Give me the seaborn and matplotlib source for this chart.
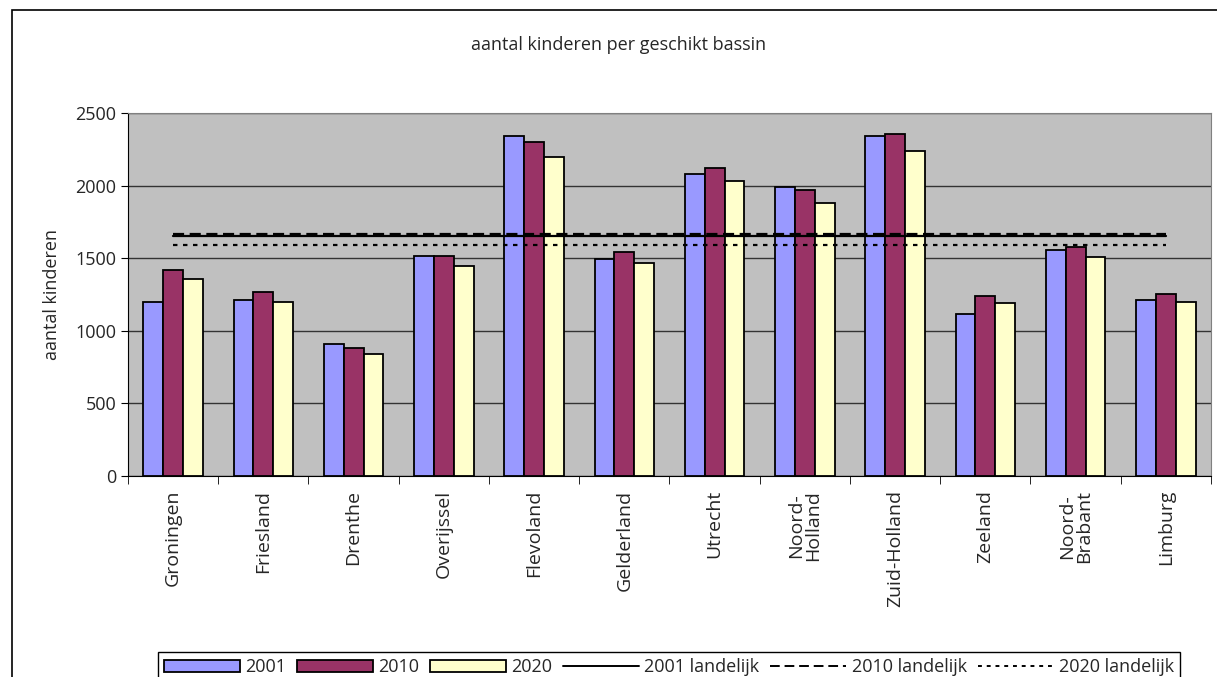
import numpy as np
import pandas as pd
import matplotlib.pyplot as plt
import seaborn as sns
from matplotlib.patches import Patch, Rectangle
from matplotlib.lines import Line2D

provinces = ["Groningen", "Friesland", "Drenthe", "Overijssel", "Flevoland",
             "Gelderland", "Utrecht", "Noord-\nHolland", "Zuid-Holland",
             "Zeeland", "Noord-\nBrabant", "Limburg"]
years = ["2001", "2010", "2020"]
v2001 = [1200, 1212, 907, 1517, 2340, 1494, 2082, 1992, 2340, 1113, 1558, 1212]
v2010 = [1419, 1267, 881, 1517, 2302, 1546, 2121, 1968, 2353, 1242, 1575, 1254]
v2020 = [1355, 1200, 842, 1446, 2197, 1470, 2032, 1880, 2238, 1191, 1510, 1200]
national = {"2001": 1651, "2010": 1667, "2020": 1591}

colors = ["#9999FF", "#993366", "#FFFFCC"]
styles = {"2001": "-", "2010": (0, (5, 2.5)), "2020": (0, (2, 2.5))}

df = pd.DataFrame({"provincie": provinces * 3,
                   "jaar": np.repeat(years, len(provinces)),
                   "kinderen": v2001 + v2010 + v2020})

sns.set_style("white")
plt.rcParams["font.family"] = ["Open Sans", "DejaVu Sans"]

fig = plt.figure(figsize=(12.17, 6.77), dpi=100)
ax = fig.add_axes([128 / 1217, 1 - 476 / 677, (1211 - 128) / 1217, (476 - 113) / 677])
ax.set_facecolor("#C0C0C0")

sns.barplot(data=df, x="provincie", y="kinderen", hue="jaar", palette=colors,
            saturation=1, width=0.66, edgecolor="black", linewidth=1.3, ax=ax,
            legend=False, zorder=3)

pos = np.arange(len(provinces))
for y in years:
    ax.plot(pos, [national[y]] * len(provinces), color="black", lw=1.6,
            linestyle=styles[y], zorder=4)

ax.set_ylim(0, 2500)
ax.set_xlim(-0.5, len(provinces) - 0.5)
ax.set_yticks(range(0, 2501, 500))
ax.yaxis.grid(True, color="#333333", lw=1, zorder=0)
ax.set_axisbelow(True)
ax.set_xticks(pos)
ax.set_xticklabels(provinces, rotation=90, fontsize=14, linespacing=0.9)
ax.set_xticks(np.arange(-0.5, len(provinces)), minor=True)
ax.tick_params(axis="x", which="major", length=0, pad=10)
ax.tick_params(axis="x", which="minor", length=6, direction="out", color="black", bottom=True)
ax.tick_params(axis="y", length=5, direction="out", color="black", left=True, labelsize=13)
ax.set_xlabel("")
ax.set_ylabel("aantal kinderen", fontsize=13, labelpad=10)
for s in ["top", "right"]:
    ax.spines[s].set_color("#808080")
for s in ["left", "bottom"]:
    ax.spines[s].set_color("black")

fig.text(619 / 1217, 1 - 45 / 677, "aantal kinderen per geschikt bassin",
         ha="center", va="center", fontsize=13)

fig.patches.append(Rectangle((12 / 1217, -0.1), 1.2, 1 - 10 / 677 + 0.1,
                             transform=fig.transFigure, fill=False,
                             edgecolor="black", lw=1.2))

handles = [Patch(facecolor=c, edgecolor="black", lw=1.3, label=y) for c, y in zip(colors, years)]
handles += [Line2D([], [], color="black", lw=1.4, linestyle=styles[y], label=y + " landelijk")
            for y in years]
fig.legend(handles=handles, loc="upper center", ncol=6,
           bbox_to_anchor=(669 / 1217, 1 - 643 / 677), frameon=True, fancybox=False,
           edgecolor="black", fontsize=13, handlelength=4.2, handletextpad=0.3,
           columnspacing=0.6, borderpad=0.35, framealpha=1)

fig.savefig("out.png", dpi=100)
